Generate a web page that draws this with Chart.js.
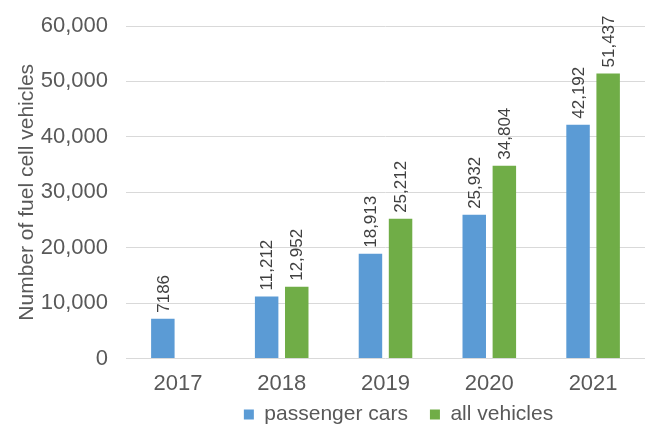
<!DOCTYPE html>
<html>
<head>
<meta charset="utf-8">
<script src="https://cdn.jsdelivr.net/npm/chart.js@4"></script>
<style>
  html, body { margin: 0; padding: 0; background: #fff; }
  #wrap { width: 645px; height: 424px; }
</style>
</head>
<body>
<div id="wrap"><canvas id="fcv"></canvas></div>
<script>
var years = ['2017', '2018', '2019', '2020', '2021'];
var passengerCars = [7186, 11212, 18913, 25932, 42192];
var allVehicles = [null, 12952, 25212, 34804, 51437];
var passengerLabels = ['7186', '11,212', '18,913', '25,932', '42,192'];
var allLabels = ['', '12,952', '25,212', '34,804', '51,437'];

var FONT = "'Liberation Sans', Arial, sans-serif";
var GREY = '#595959';

// value labels written upright above each bar
var barLabels = {
    id: 'barLabels',
    afterDatasetsDraw: function (chart) {
        var ctx = chart.ctx;
        var texts = [passengerLabels, allLabels];
        chart.data.datasets.forEach(function (ds, i) {
            var meta = chart.getDatasetMeta(i);
            meta.data.forEach(function (bar, j) {
                if (ds.data[j] === null || !texts[i][j]) return;
                ctx.save();
                ctx.translate(bar.x, bar.y - 6);
                ctx.rotate(-Math.PI / 2);
                ctx.font = '17px ' + FONT;
                ctx.fillStyle = '#404040';
                ctx.textAlign = 'left';
                ctx.textBaseline = 'middle';
                ctx.fillText(texts[i][j], 0, 1);
                ctx.restore();
            });
        });
    }
};

// legend sits a little right of the plot centre and tucked closer to the axis
var legendShift = {
    id: 'legendShift',
    afterLayout: function (chart) {
        var lg = chart.legend;
        if (lg) {
            lg.left += 13;
            lg.right += 13;
            lg.top -= 27;
            lg.bottom -= 27;
        }
    }
};

new Chart('fcv', {
    type: 'bar',
    data: {
        labels: years,
        datasets: [{
            label: 'passenger cars',
            data: passengerCars,
            backgroundColor: '#5B9BD5',
            categoryPercentage: 0.58,
            barPercentage: 0.78
        }, {
            label: 'all vehicles',
            data: allVehicles,
            backgroundColor: '#70AD47',
            categoryPercentage: 0.58,
            barPercentage: 0.78
        }]
    },
    options: {
        responsive: true,
        maintainAspectRatio: false,
        animation: false,
        layout: {
            padding: { left: 15, right: 0, top: 26, bottom: -38 }
        },
        scales: {
            x: {
                grid: { display: false, drawTicks: false },
                border: { display: false },
                ticks: {
                    color: GREY,
                    font: { family: FONT, size: 22 },
                    padding: 12
                }
            },
            y: {
                min: 0,
                max: 60000,
                grid: { color: '#d9d9d9', drawTicks: false },
                border: { display: false },
                afterFit: function (scale) {
                    scale.width = 111;
                    scale.paddingTop = 0;
                    scale.paddingBottom = 0;
                },
                ticks: {
                    stepSize: 10000,
                    color: GREY,
                    padding: 18,
                    font: { family: FONT, size: 22 },
                    callback: function (v) { return v.toLocaleString('en-US'); }
                },
                title: {
                    display: true,
                    text: 'Number of fuel cell vehicles',
                    color: GREY,
                    font: { family: FONT, size: 21 },
                    padding: { top: 0, bottom: 0 }
                }
            }
        },
        plugins: {
            legend: {
                position: 'bottom',
                fullSize: false,
                labels: {
                    boxWidth: 10,
                    boxHeight: 10,
                    padding: 22,
                    color: GREY,
                    font: { family: FONT, size: 21 }
                }
            },
            tooltip: { enabled: false }
        }
    },
    plugins: [barLabels, legendShift]
});
</script>
</body>
</html>
